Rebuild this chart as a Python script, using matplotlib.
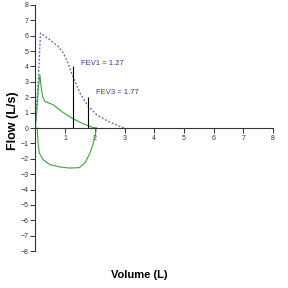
import matplotlib
matplotlib.use("Agg")
import matplotlib.pyplot as plt

plt.rcParams['font.family'] = ['Liberation Sans', 'DejaVu Sans']

# predicted / reference curve (dashed)
pred_vol = [0.0, 0.06, 0.13, 0.17, 0.45, 0.77, 0.94, 1.1, 1.25, 1.5, 1.74, 2.06, 2.45, 2.79, 2.98]
pred_flow = [0.0, 2.0, 4.4, 6.17, 5.78, 5.3, 4.87, 4.2, 3.4, 2.27, 1.51, 0.86, 0.43, 0.15, 0.0]

# measured expiration (green)
exp_vol = [0.0, 0.05, 0.1, 0.15, 0.19, 0.24, 0.32, 0.6, 0.88, 1.22, 1.56, 1.89, 2.05]
exp_flow = [0.1, 1.2, 2.6, 3.46, 2.7, 2.05, 1.73, 1.51, 1.08, 0.65, 0.32, 0.06, 0.0]

# measured inspiration (green)
insp_vol = [0.06, 0.09, 0.13, 0.26, 0.49, 0.82, 1.14, 1.47, 1.67, 1.84, 1.95, 2.03, 2.05]
insp_flow = [0.0, -0.97, -1.62, -2.06, -2.38, -2.53, -2.6, -2.58, -2.27, -1.62, -0.97, -0.32, 0.0]

fev1, fev1_h = 1.27, 4.0
fev3, fev3_h = 1.77, 2.0

fig = plt.figure(figsize=(2.88, 2.88), dpi=100)
ax = fig.add_axes([0.123, 0.128, 0.825, 0.855])

ax.plot(pred_vol, pred_flow, color='#5a5ab4', lw=0.9, linestyle=(0, (1.5, 1.5)))
ax.plot(exp_vol, exp_flow, color='#3aa63a', lw=0.8)
ax.plot(insp_vol, insp_flow, color='#3aa63a', lw=0.8)

ax.vlines([fev1, fev3], 0, [fev1_h, fev3_h], color='black', lw=0.8)
ax.text(1.53, 4.22, f'FEV1 = {fev1}', color='#333399', fontsize=5.5, va='center')
ax.text(2.03, 2.31, f'FEV3 = {fev3}', color='#333399', fontsize=5.5, va='center')

ax.set_xlim(0, 8)
ax.set_ylim(-8, 8)
ax.spines['left'].set_position(('data', 0))
ax.spines['bottom'].set_position(('data', 0))
ax.spines['right'].set_visible(False)
ax.spines['top'].set_visible(False)
for s in ['left', 'bottom']:
    ax.spines[s].set_color('#333333')
    ax.spines[s].set_linewidth(0.8)

ax.set_xticks(range(1, 9))
ax.set_yticks(range(-8, 9))
ax.tick_params(axis='both', labelsize=5, length=3.5, width=0.7, colors='#333333', pad=1.5)

fig.text(0.044, 0.58, 'Flow (L/s)', rotation=90, fontsize=9, fontweight='bold',
         ha='center', va='center')
fig.text(0.483, 0.045, 'Volume (L)', fontsize=8, fontweight='bold',
         ha='center', va='center')

fig.savefig('out.png', dpi=100)
